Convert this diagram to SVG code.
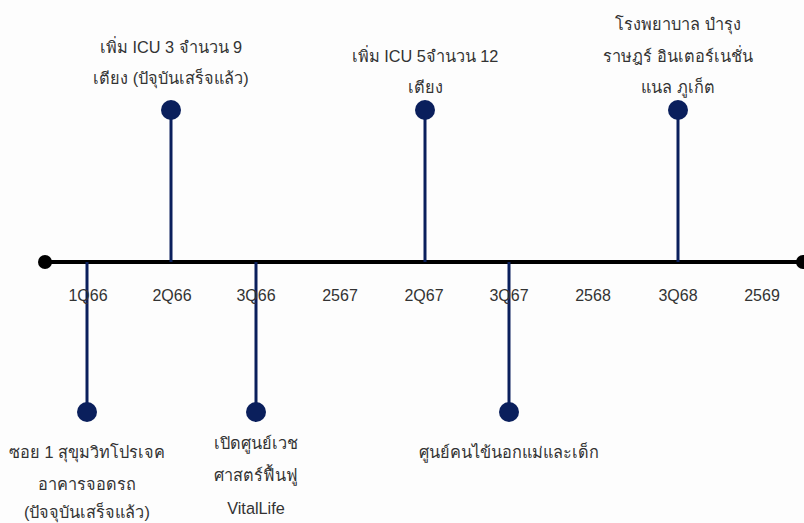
<svg xmlns="http://www.w3.org/2000/svg" width="804" height="523" viewBox="0 0 804 523">
<style>
text{font-family:"Liberation Sans","Noto Sans",sans-serif;fill:#333;text-anchor:middle}
.lbl{font-size:16px}
.ev{font-size:16.3px}
.stem{stroke:#0a1f5c;stroke-width:3}
.dot{fill:#0a1f5c}
</style>
<rect width="804" height="523" fill="#fdfdfd"/>
<g id="connectors">
<line x1="45" y1="262" x2="803" y2="262" stroke="#000" stroke-width="4"/>
<circle cx="45" cy="262" r="7" fill="#000"/>
<circle cx="803" cy="262" r="7" fill="#000"/>
<line class="stem" x1="87" y1="262" x2="87" y2="412"/>
<line class="stem" x1="171" y1="262" x2="171" y2="110"/>
<line class="stem" x1="256" y1="262" x2="256" y2="412"/>
<line class="stem" x1="425" y1="262" x2="425" y2="110"/>
<line class="stem" x1="509" y1="262" x2="509" y2="412"/>
<line class="stem" x1="678" y1="262" x2="678" y2="110"/>
</g>
<g id="axis-labels">
<text class="lbl" x="88" y="301">1Q66</text>
<text class="lbl" x="172" y="301">2Q66</text>
<text class="lbl" x="256" y="301">3Q66</text>
<text class="lbl" x="340" y="301">2567</text>
<text class="lbl" x="424" y="301">2Q67</text>
<text class="lbl" x="509" y="301">3Q67</text>
<text class="lbl" x="593" y="301">2568</text>
<text class="lbl" x="678" y="301">3Q68</text>
<text class="lbl" x="762" y="301">2569</text>
</g>
<g id="n1"><circle class="dot" cx="87" cy="412" r="10"/>
<text class="ev" x="87" y="458">ซอย 1 สุขุมวิทโปรเจค</text>
<text class="ev" x="87" y="490">อาคารจอดรถ</text>
<text class="ev" x="87" y="518">(ปัจจุบันเสร็จแล้ว)</text></g>
<g id="n2"><circle class="dot" cx="171" cy="110" r="10"/>
<text class="ev" x="171" y="53">เพิ่ม ICU 3 จำนวน 9</text>
<text class="ev" x="171" y="84">เตียง (ปัจุบันเสร็จแล้ว)</text></g>
<g id="n3"><circle class="dot" cx="256" cy="412" r="10"/>
<text class="ev" x="256" y="449">เปิดศูนย์เวช</text>
<text class="ev" x="256" y="481">ศาสตร์ฟื้นฟู</text>
<text class="ev" x="256" y="514">VitalLife</text></g>
<g id="n4"><circle class="dot" cx="425" cy="110" r="10"/>
<text class="ev" x="425" y="62">เพิ่ม ICU 5จำนวน 12</text>
<text class="ev" x="425" y="93">เตียง</text></g>
<g id="n5"><circle class="dot" cx="509" cy="412" r="10"/>
<text class="ev" x="509" y="458">ศูนย์คนไข้นอกแม่และเด็ก</text></g>
<g id="n6"><circle class="dot" cx="678" cy="110" r="10"/>
<text class="ev" x="678" y="30">โรงพยาบาล บำรุง</text>
<text class="ev" x="678" y="62">ราษฎร์ อินเตอร์เนชั่น</text>
<text class="ev" x="678" y="93">แนล ภูเก็ต</text></g>
</svg>
